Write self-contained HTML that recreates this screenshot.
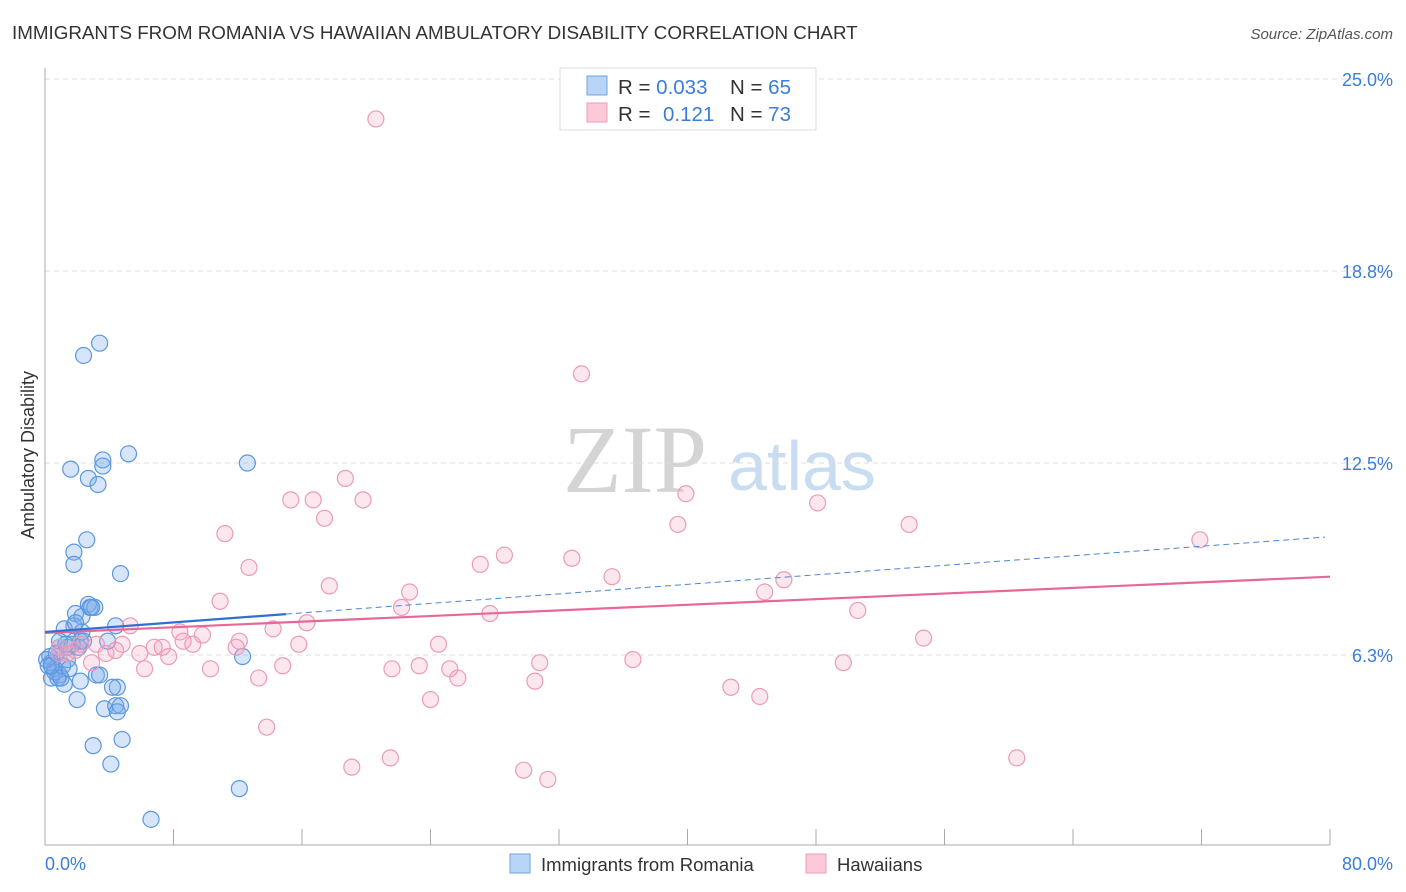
<!DOCTYPE html>
<html><head><meta charset="utf-8">
<style>
body{margin:0;background:#fff;font-family:"Liberation Sans",sans-serif;}
svg{display:block}
</style></head>
<body>
<svg id="chart" width="1406" height="892" xmlns="http://www.w3.org/2000/svg">
<text x="12" y="39" font-size="18.8" fill="#333">IMMIGRANTS FROM ROMANIA VS HAWAIIAN AMBULATORY DISABILITY CORRELATION CHART</text>
<text x="1393" y="39" font-size="15" fill="#555" font-style="italic" text-anchor="end">Source: ZipAtlas.com</text>
<text x="635" y="492" font-size="96" fill="#d4d4d4" font-family="Liberation Serif,serif" text-anchor="middle">ZIP</text>
<text x="802" y="490" font-size="70" fill="#c8dcf2" text-anchor="middle">atlas</text>
<g id="grid"></g>
<g id="axes"></g>
<g id="marks"></g>
<g id="trend"></g>
<text transform="translate(34,455) rotate(-90)" font-size="18" fill="#333" text-anchor="middle">Ambulatory Disability</text>
<text x="45" y="870" font-size="18" fill="#3b7dd8">0.0%</text>
<text x="1393" y="870" font-size="18" fill="#3b7dd8" text-anchor="end">80.0%</text>
<g>
<rect x="560" y="68" width="256" height="62" fill="#fff" stroke="#ddd"/>
<rect x="587" y="76" width="20" height="19" fill="#b8d4f6" stroke="#6ea3e4"/>
<rect x="587" y="103" width="20" height="19" fill="#fbc9d8" stroke="#f09ab6"/>
<text x="618" y="94" font-size="20.5" fill="#333">R = <tspan fill="#3b7dd8">0.033</tspan><tspan x="730">N = </tspan><tspan fill="#3b7dd8">65</tspan></text>
<text x="618" y="121" font-size="20.5" fill="#333">R = <tspan x="663" fill="#3b7dd8">0.121</tspan><tspan x="730">N = </tspan><tspan fill="#3b7dd8">73</tspan></text>
</g>
<g>
<rect x="510" y="854" width="20" height="19" fill="#b8d4f6" stroke="#6ea3e4"/>
<text x="541" y="871" font-size="18.5" fill="#333">Immigrants from Romania</text>
<rect x="806" y="854" width="20" height="19" fill="#fbc9d8" stroke="#f09ab6"/>
<text x="837" y="871" font-size="18.5" fill="#333">Hawaiians</text>
</g>
</svg>
<script>
const yTicks=[25.0,18.8,12.5,6.3];
const yTickVals=[25,18.75,12.5,6.25];
const xTickVals=[0,8,16,24,32,40,48,56,64,72,80];
const blueX=[2.4,3.4,1.6,2.7,3.6,3.6,3.3,5.2,12.6,2.6,1.8,1.8,4.7,2.7,1.9,2.3,2.8,3.1,1.8,1.2,4.4,2.2,2.1,1.4,3.9,2.3,0.9,0.3,0.4,0.6,0.4,0.9,1.2,2.0,3.7,3.2,2.2,4.5,4.2,4.4,4.7,12.3,4.8,3.0,4.1,12.1,6.6,0.9,1.4,0.8,0.6,1.1,0.1,0.2,0.7,1.7,1.3,2.9,1.0,0.4,3.4,4.5,1.9,2.4,1.5];
const blueY=[16.0,16.4,12.3,12.0,12.6,12.4,11.8,12.8,12.5,10.0,9.6,9.2,8.9,7.9,7.6,7.5,7.8,7.8,7.2,7.1,7.2,6.7,6.5,6.5,6.7,7.0,6.5,6.2,6.0,5.8,5.5,5.6,5.3,4.8,4.5,5.6,5.4,5.2,5.2,4.6,4.6,6.2,3.5,3.3,2.7,1.9,0.9,6.7,6.1,5.5,5.7,5.9,6.1,5.9,6.3,6.6,6.6,7.8,5.5,5.9,5.6,4.4,7.3,6.7,5.8];
const pinkX=[20.6,33.4,18.7,15.3,16.7,19.8,17.4,39.9,39.4,48.1,53.8,71.9,11.2,12.7,28.6,32.8,27.1,17.7,22.7,35.3,46.0,44.8,10.9,22.2,27.7,50.6,16.3,5.3,14.2,8.4,9.8,8.6,12.1,54.7,24.5,15.8,6.8,9.2,7.3,4.8,3.2,2.2,0.9,11.9,3.8,4.4,5.9,7.7,1.4,2.9,6.2,10.3,14.8,21.6,23.3,25.2,30.8,36.6,49.7,13.3,25.7,30.5,42.7,44.5,24.0,13.8,21.5,19.1,29.8,31.3,60.5,0.9,1.9];
const pinkY=[23.7,15.4,12.0,11.3,11.3,11.3,10.7,11.5,10.5,11.2,10.5,10.0,10.2,9.1,9.5,9.4,9.2,8.5,8.3,8.8,8.7,8.3,8.0,7.8,7.6,7.7,7.3,7.2,7.1,7.0,6.9,6.7,6.7,6.8,6.6,6.6,6.5,6.6,6.5,6.6,6.6,6.6,6.5,6.5,6.3,6.4,6.3,6.2,6.3,6.0,5.8,5.8,5.9,5.8,5.9,5.8,6.0,6.1,6.0,5.5,5.5,5.4,5.2,4.9,4.8,3.9,2.9,2.6,2.5,2.2,2.9,6.3,6.4];
const blueTrend=[7.0,10.1];
const pinkTrend=[6.97,8.8];
const NS='http://www.w3.org/2000/svg';
const xs=v=>45+v/80*1285;
const ys=v=>847-v/6.25*192;
function mk(tag,attrs,parent){const e=document.createElementNS(NS,tag);for(const k in attrs)e.setAttribute(k,attrs[k]);document.getElementById(parent).appendChild(e);return e;}
yTickVals.forEach((v,i)=>{
  const l=mk('line',{x1:45,x2:1395,y1:ys(v),y2:ys(v),stroke:'#ddd','stroke-dasharray':'5,4'},'grid');
  
  
  const t=mk('text',{x:1393,y:ys(v)+7,'font-size':18,fill:'#3b7dd8','text-anchor':'end'},'grid');
  t.textContent=yTicks[i].toFixed(1)+'%';
  
  
});
const ya=mk('line',{x1:45,x2:45,y1:68,y2:845,stroke:'#aaa'},'axes');


const xa=mk('line',{x1:45,x2:1330,y1:845,y2:845,stroke:'#aaa'},'axes');


xTickVals.forEach(v=>{
  const t=mk('line',{x1:xs(v),x2:xs(v),y1:829,y2:845,stroke:'#aaa'},'axes');
  
  
});
blueX.forEach((x,i)=>{
  const c=mk('circle',{cx:xs(x),cy:ys(blueY[i]),r:8,fill:'rgba(120,170,235,0.3)',stroke:'#5b98e0','stroke-width':1.2},'marks');
  
  
});
pinkX.forEach((x,i)=>{
  const c=mk('circle',{cx:xs(x),cy:ys(pinkY[i]),r:8,fill:'rgba(245,160,190,0.25)',stroke:'#ec9ab6','stroke-width':1.2},'marks');
  
  
});
const bAt=x=>blueTrend[0]+(blueTrend[1]-blueTrend[0])*x/80;
const pAt=x=>pinkTrend[0]+(pinkTrend[1]-pinkTrend[0])*x/80;
const pl=mk('line',{x1:xs(0),y1:ys(pAt(0)),x2:xs(80),y2:ys(pAt(80)),stroke:'#e8679a','stroke-width':2.2},'trend');


const bs=mk('line',{x1:xs(0),y1:ys(bAt(0)),x2:xs(15),y2:ys(bAt(15)),stroke:'#2f70d0','stroke-width':2.2},'trend');


const bd=mk('line',{x1:xs(15),y1:ys(bAt(15)),x2:xs(79.7),y2:ys(bAt(79.7)),stroke:'#4a86d8','stroke-width':1,'stroke-dasharray':'6,4'},'trend');


</script>
</body></html>
